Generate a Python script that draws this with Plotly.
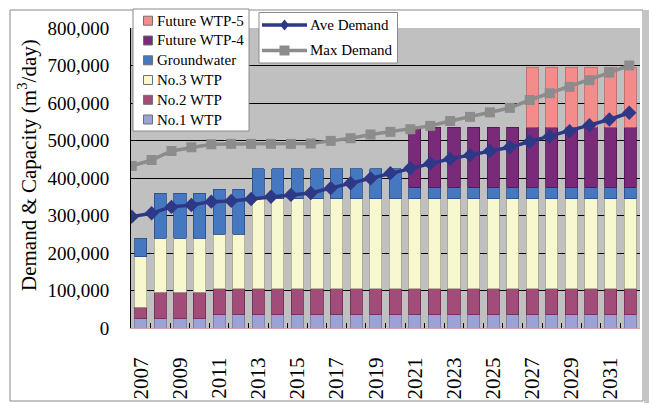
import plotly.graph_objects as go

years = [str(y) for y in range(2007, 2033)]
line_years = list(range(2007, 2033))
tick_labels = ["2007", "", "2009", "", "2011", "", "2013", "", "2015", "", "2017", "", "2019", "",
               "2021", "", "2023", "", "2025", "", "2027", "", "2029", "", "2031", ""]

no1_wtp = [25000, 25000, 25000, 25000, 35000, 35000, 35000, 35000, 35000, 35000, 35000, 35000, 35000,
           35000, 35000, 35000, 35000, 35000, 35000, 35000, 35000, 35000, 35000, 35000, 35000, 35000]
no2_wtp = [30000, 70000, 70000, 70000, 70000, 70000, 70000, 70000, 70000, 70000, 70000, 70000, 70000,
           70000, 70000, 70000, 70000, 70000, 70000, 70000, 70000, 70000, 70000, 70000, 70000, 70000]
no3_wtp = [135000, 145000, 145000, 145000, 145000, 145000, 240000, 240000, 240000, 240000, 240000, 240000, 240000,
           240000, 240000, 240000, 240000, 240000, 240000, 240000, 240000, 240000, 240000, 240000, 240000, 240000]
groundwater = [50000, 120000, 120000, 120000, 120000, 120000, 80000, 80000, 80000, 80000, 80000, 80000, 80000,
               80000, 30000, 30000, 30000, 30000, 30000, 30000, 30000, 30000, 30000, 30000, 30000, 30000]
future_wtp4 = [None, None, None, None, None, None, None, None, None, None, None, None, None,
               None, 160000, 160000, 160000, 160000, 160000, 160000, 160000, 160000, 160000, 160000, 160000, 160000]
future_wtp5 = [None, None, None, None, None, None, None, None, None, None, None, None, None,
               None, None, None, None, None, None, None, 160000, 160000, 160000, 160000, 160000, 160000]

ave_demand = [297000, 306000, 323000, 328000, 337000, 339000, 344000, 350000, 355000, 360000, 373000, 386000, 399000,
              413000, 426000, 439000, 451000, 461000, 472000, 482000, 497000, 511000, 525000, 541000, 556000, 574000]
max_demand = [432000, 448000, 472000, 482000, 490000, 491000, 491000, 491000, 491000, 492000, 499000, 506000, 516000,
              523000, 530000, 539000, 552000, 563000, 575000, 587000, 608000, 626000, 643000, 661000, 681000, 700000]

bar_names = ["No.1 WTP", "No.2 WTP", "No.3 WTP", "Groundwater", "Future WTP-4", "Future WTP-5"]
bar_values = [no1_wtp, no2_wtp, no3_wtp, groundwater, future_wtp4, future_wtp5]
bar_colors = ["#9AA2D6", "#A24C7A", "#F7F7D0", "#4677C1", "#792A79", "#F58C8C"]
bar_edges = ["#6E74A8", "#6E2A50", "#A8A88A", "#2A4E86", "#4E1450", "#B86A6A"]

line_names = ["Ave Demand", "Max Demand"]
line_values = [ave_demand, max_demand]
line_colors = ["#2D3886", "#8C8C8C"]
line_symbols = ["diamond", "square"]

W, H = 649, 403
L, R, T, B = 131, 9, 28, 75
PW, PH = W - L - R, H - T - B


def px_x(p):
    return (p - L) / PW


def px_y(p):
    return (H - B - p) / PH


FONT = "Liberation Serif, Times New Roman, serif"

fig = go.Figure()
for name, vals, col, edge in zip(bar_names, bar_values, bar_colors, bar_edges):
    fig.add_trace(go.Bar(x=years, y=vals, name=name,
                         marker=dict(color=col, line=dict(color=edge, width=0.8))))

for name, vals, col, sym in zip(line_names, line_values, line_colors, line_symbols):
    fig.add_trace(go.Scatter(x=line_years, y=vals, name=name, mode="lines+markers",
                             xaxis="x2", yaxis="y",
                             line=dict(color=col, width=3.5),
                             marker=dict(symbol=sym, size=11 if sym == "diamond" else 10, color=col)))

shapes = [
    # outer chart frame
    dict(type="rect", xref="paper", yref="paper", x0=px_x(10), x1=px_x(643), y0=px_y(401), y1=px_y(10),
         line=dict(color="#8A8A8A", width=1), fillcolor="rgba(0,0,0,0)", layer="below"),
    dict(type="rect", xref="paper", yref="paper", x0=px_x(644), x1=px_x(650), y0=px_y(404), y1=px_y(10),
         line=dict(width=0), fillcolor="#C4C4C4", layer="below"),
    # legend boxes
    dict(type="rect", xref="paper", yref="paper", x0=px_x(133), x1=px_x(249), y0=px_y(131), y1=px_y(9),
         line=dict(color="#8A8A8A", width=1), fillcolor="white", layer="above"),
    dict(type="rect", xref="paper", yref="paper", x0=px_x(259), x1=px_x(397.5), y0=px_y(63), y1=px_y(12.5),
         line=dict(color="#8A8A8A", width=1), fillcolor="white", layer="above"),
]
annotations = [
    dict(text="Demand & Capacity (m<sup>3</sup>/day)", textangle=-90, xref="paper", yref="paper",
         x=px_x(27), y=px_y(165), xanchor="center", yanchor="middle", showarrow=False,
         font=dict(size=21, family=FONT)),
]

# legend 1 (bars, top to bottom reversed)
row_y = [20.7, 40.5, 60.3, 80.0, 99.8, 119.5]
for i, k in enumerate(reversed(range(len(bar_names)))):
    cy = row_y[i]
    shapes.append(dict(type="rect", xref="paper", yref="paper", x0=px_x(143.5), x1=px_x(152.5),
                       y0=px_y(cy + 4.5), y1=px_y(cy - 4.5), fillcolor=bar_colors[k],
                       line=dict(color="#707070", width=1), layer="above"))
    annotations.append(dict(text=bar_names[k], xref="paper", yref="paper", x=px_x(155), y=px_y(cy),
                            xanchor="left", yanchor="middle", showarrow=False,
                            font=dict(size=15, family=FONT)))

# legend 2 (lines)
row_y2 = [25.0, 50.5]
for i in range(len(line_names)):
    cy = row_y2[i]
    col = line_colors[i]
    shapes.append(dict(type="line", xref="paper", yref="paper", x0=px_x(262), x1=px_x(307),
                       y0=px_y(cy), y1=px_y(cy), line=dict(color=col, width=3.5), layer="above"))
    cx = 284.5
    if line_symbols[i] == "diamond":
        path = "M {} {} L {} {} L {} {} L {} {} Z".format(
            px_x(cx - 4.5), px_y(cy), px_x(cx), px_y(cy - 5.5), px_x(cx + 4.5), px_y(cy), px_x(cx), px_y(cy + 5.5))
        shapes.append(dict(type="path", xref="paper", yref="paper", path=path, fillcolor=col,
                           line=dict(color=col, width=0), layer="above"))
    else:
        shapes.append(dict(type="rect", xref="paper", yref="paper", x0=px_x(cx - 5), x1=px_x(cx + 5),
                           y0=px_y(cy + 5), y1=px_y(cy - 5), fillcolor=col, line=dict(width=0), layer="above"))
    annotations.append(dict(text=line_names[i], xref="paper", yref="paper", x=px_x(308), y=px_y(cy),
                            xanchor="left", yanchor="middle", showarrow=False,
                            font=dict(size=15, family=FONT)))

fig.update_layout(
    width=W, height=H,
    margin=dict(l=L, r=R, t=T, b=B, pad=0, autoexpand=False),
    paper_bgcolor="white",
    plot_bgcolor="#C0C0C0",
    barmode="stack",
    bargap=0.38,
    showlegend=False,
    font=dict(family=FONT, color="black"),
    xaxis=dict(type="category", tickvals=years, ticktext=tick_labels, tickangle=-90,
               tickson="boundaries", ticks="inside", ticklen=5, tickcolor="black",
               showgrid=False, showline=True, linecolor="#D4A4A4", linewidth=1,
               tickfont=dict(size=21, family=FONT), ticklabelstandoff=20,
               range=[-0.5, 25.5]),
    xaxis2=dict(overlaying="x", range=[2006.965, 2032.54], visible=False),
    yaxis=dict(range=[0, 800000], dtick=100000, tickformat=",", showgrid=True, gridcolor="black",
               gridwidth=1, showline=True, linecolor="black", linewidth=1, ticks="",
               tickfont=dict(size=19, family=FONT), ticklabelstandoff=17, zeroline=False),
    annotations=annotations,
    shapes=shapes,
)

fig.write_html("out.html", config={"displayModeBar": False},
               post_script="document.body.style.margin='0px';document.body.style.overflow='hidden';")
